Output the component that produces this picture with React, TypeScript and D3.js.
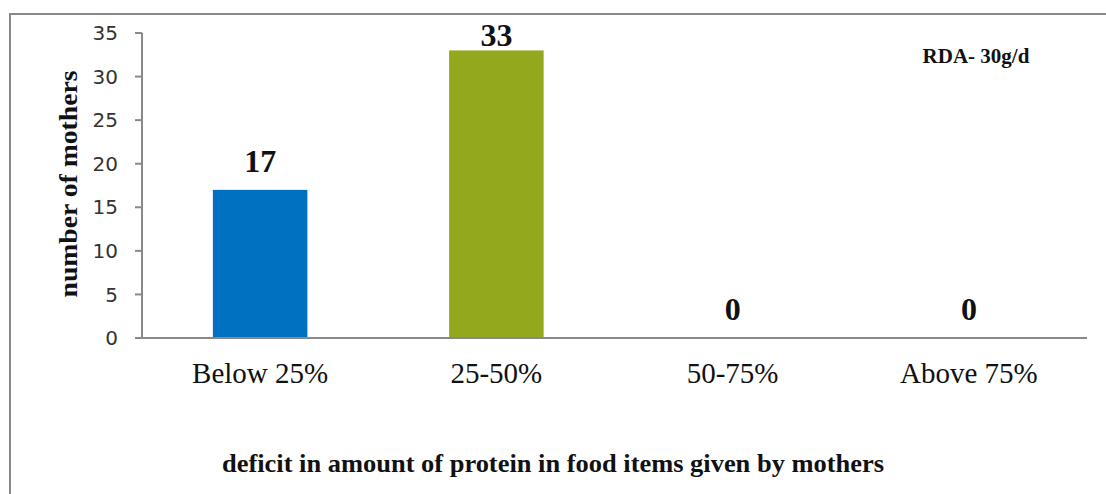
import React from "react";
import * as d3 from "d3";

const categories = ["Below 25%", "25-50%", "50-75%", "Above 75%"];
const values = [17, 33, 0, 0];
const barColors = ["#0070C0", "#93A81C", "#0070C0", "#93A81C"];
const yTicks = [0, 5, 10, 15, 20, 25, 30, 35];

export default function App() {
  const W = 1106, H = 494;
  const x0 = 142, x1 = 1087;
  const yTop = 33, yBot = 338;
  const x = d3.scaleBand<string>().domain(categories).range([x0, x1]).padding(0);
  const y = d3.scaleLinear().domain([0, 35]).range([yBot, yTop]);
  const bw = x.bandwidth() * 0.4;
  const serif = "'Liberation Serif', 'Times New Roman', serif";
  const sans = "'DejaVu Sans', sans-serif";
  const axisColor = "#898989";
  return (
    <svg width={W} height={H} style={{ position: "absolute", left: 0, top: 0, background: "#fff" }}>
      <rect x={10} y={14} width={1200} height={600} fill="#fff" stroke={axisColor} strokeWidth={2} />
      {/* bars */}
      {categories.map((c, i) => (
        <rect key={c} x={x(c)! + (x.bandwidth() - bw) / 2} y={y(values[i])} width={bw}
          height={yBot - y(values[i])} fill={barColors[i]} />
      ))}
      {/* y axis */}
      <line x1={x0} x2={x0} y1={yTop} y2={yBot} stroke={axisColor} strokeWidth={2} />
      {yTicks.map(t => (
        <g key={t}>
          <line x1={x0 - 7} x2={x0} y1={y(t)} y2={y(t)} stroke={axisColor} strokeWidth={2} />
          <text x={118} y={y(t)} dy="0.36em" textAnchor="end" fontFamily={sans} fontSize={20} fill="#333">{t}</text>
        </g>
      ))}
      <line x1={x0 - 7} x2={x1} y1={yBot} y2={yBot} stroke={axisColor} strokeWidth={2} />
      {categories.map(c => (
        <text key={c} x={x(c)! + x.bandwidth() / 2} y={383} textAnchor="middle" fontFamily={serif} fontSize={29} fill="#111">{c}</text>
      ))}
      {/* value labels */}
      {categories.map((c, i) => (
        <text key={"v" + c} x={x(c)! + x.bandwidth() / 2} y={Math.max(y(values[i]) - 18, 46)} textAnchor="middle"
          fontFamily={serif} fontWeight="bold" fontSize={32} fill="#111">{values[i]}</text>
      ))}
      <text x={976} y={63} textAnchor="middle" fontFamily={serif} fontWeight="bold" fontSize={21} fill="#111">RDA- 30g/d</text>
      <text transform={`translate(77,184) rotate(-90)`} textAnchor="middle" fontFamily={serif} fontWeight="bold"
        fontSize={26} fill="#111" textLength={227} lengthAdjust="spacingAndGlyphs">number of mothers</text>
      <text x={553} y={472} textAnchor="middle" fontFamily={serif} fontWeight="bold" fontSize={25} fill="#111"
        textLength={662} lengthAdjust="spacingAndGlyphs">deficit in amount of protein in food items given by mothers</text>
    </svg>
  );
}
